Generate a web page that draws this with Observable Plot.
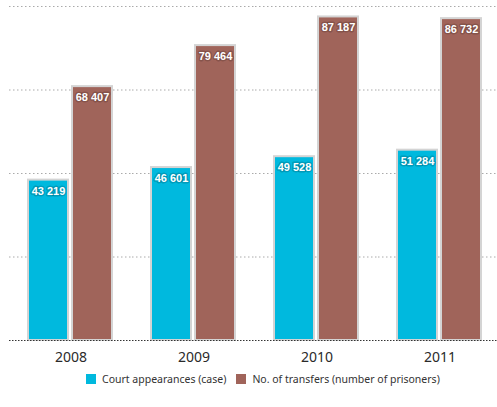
<!DOCTYPE html>
<html><head><meta charset="utf-8">
<script src="https://cdn.jsdelivr.net/npm/d3@7"></script>
<script src="https://cdn.jsdelivr.net/npm/@observablehq/plot@0.6"></script>
<style>
body{margin:0;background:#fff;font-family:"Noto Sans",sans-serif;}
#legend{display:flex;justify-content:flex-start;align-items:center;gap:10px;font-size:10.5px;color:#333;height:24px;margin-top:-1px;padding-left:86px}
#legend span.sw{display:inline-block;width:10px;height:10px;margin-right:6px;vertical-align:-1px}
</style></head><body>
<div id="chart"></div>
<div id="legend"></div>
<script>
const years = ["2008","2009","2010","2011"];
const seriesNames = ["Court appearances (case)","No. of transfers (number of prisoners)"];
const courtAppearances = [43219, 46601, 49528, 51284];
const transfers = [68407, 79464, 87187, 86732];
const gridTicks = [22500, 45000, 67500, 90000];
const colors = ["#00b9de", "#a0645a"];

const data = [];
years.forEach((y,i)=>{
  data.push({year:y, series:seriesNames[0], value:courtAppearances[i]});
  data.push({year:y, series:seriesNames[1], value:transfers[i]});
});
const fmt = v => d3.format(",")(v).replace(",", " ");

const plot = Plot.plot({
  width:497, height:368,
  marginLeft:8, marginRight:-5, marginTop:6, marginBottom:28,
  style:{fontFamily:"'Noto Sans', sans-serif", color:"#2a2a2a", background:"#fff"},
  fx:{domain:years, padding:0, label:null},
  x:{domain:seriesNames, paddingInner:0.089, paddingOuter:0.4165, axis:null},
  y:{domain:[0,90000], axis:null},
  color:{domain:seriesNames, range:colors},
  marks:[
    Plot.ruleY(gridTicks, {stroke:"#aaa", strokeDasharray:"1.5,2.5", strokeWidth:1}),
    Plot.barY(data, {fx:"year", x:"series", y:"value", fill:"series", stroke:"#d4d4d4", strokeWidth:2}),
    Plot.text(data, {fx:"year", x:"series", y:"value", text:d=>fmt(d.value), dy:11, fill:"#fff", fontWeight:"bold", fontSize:11, fontFamily:"'Liberation Sans', Arial, sans-serif", stroke:"#000", strokeOpacity:0.18, strokeWidth:3}),
    Plot.ruleY([0], {stroke:"#333", strokeDasharray:"1.5,1.5", strokeWidth:1}),
    Plot.axisFx({anchor:"bottom", tickSize:0, tickPadding:12, fontSize:14, label:null})
  ]
});
document.getElementById("chart").appendChild(plot);

const lg = document.getElementById("legend");
seriesNames.forEach((s,i)=>{
  const d = document.createElement("div");
  d.innerHTML = `<span class="sw" style="background:${colors[i]}"></span>${s}`;
  lg.appendChild(d);
});
</script>
</body></html>
